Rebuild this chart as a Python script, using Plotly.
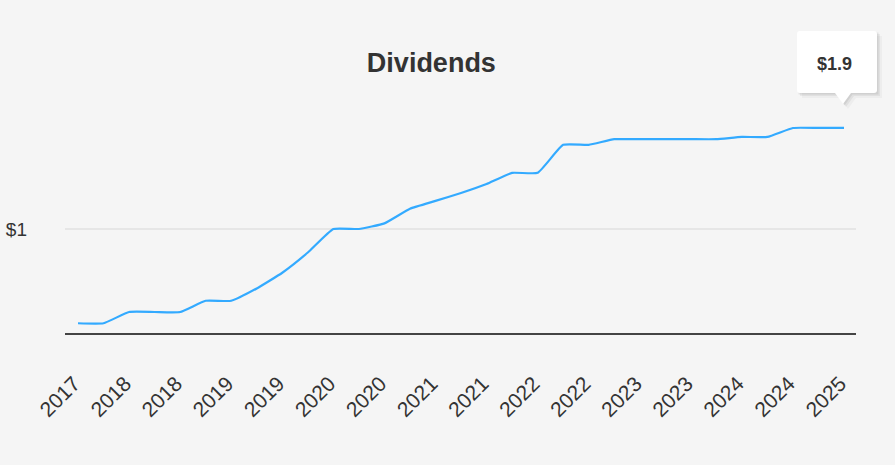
import plotly.graph_objects as go

# Half-year tick labels (one tick every 2 quarters)
tick_labels = ["2017", "2018", "2018", "2019", "2019", "2020", "2020", "2021",
               "2021", "2022", "2022", "2023", "2023", "2024", "2024", "2025"]

# Quarterly dividend (TTM) values
quarter_index = list(range(31))
dividends = [0.16, 0.16, 0.26, 0.26, 0.26, 0.36, 0.36, 0.47, 0.61, 0.79,
             1.00, 1.00, 1.05, 1.18, 1.25, 1.32, 1.40, 1.50, 1.50, 1.75,
             1.75, 1.80, 1.80, 1.80, 1.80, 1.80, 1.82, 1.82, 1.90, 1.90, 1.90]

last_label = "$1.9"

FONT = "Liberation Sans, Arial, sans-serif"
TXT = "#333333"

X_RANGE = [-0.51, 30.47]
Y_RANGE = [0.073, 2.862]

fig = go.Figure()
fig.add_trace(go.Scatter(
    x=quarter_index, y=dividends, mode="lines",
    line=dict(color="#33aaff", width=2.2, shape="spline", smoothing=0.4),
    hoverinfo="skip", showlegend=False,
))

lx, ly = quarter_index[-1], dividends[-1]
# anchor of the tooltip (last point) in paper fraction, so the box is not clipped
ax = (lx - X_RANGE[0]) / (X_RANGE[1] - X_RANGE[0])
ay = (ly - Y_RANGE[0]) / (Y_RANGE[1] - Y_RANGE[0])

# tooltip shadow (soft, layered)
for off, alpha in ((5, 0.03), (3, 0.05), (1.5, 0.07)):
    fig.add_shape(type="path", xref="paper", yref="paper", xsizemode="pixel", ysizemode="pixel",
                  xanchor=ax, yanchor=ay,
                  path=(f"M {-47+off},{35-off} L {-9+off},{35-off} L {-1+off},{24-off} L {7+off},{35-off} "
                        f"L {33+off},{35-off} L {33+off},{97-off} L {-47+off},{97-off} Z"),
                  fillcolor=f"rgba(0,0,0,{alpha})", line=dict(width=0), layer="above")
# tooltip box with pointer
fig.add_shape(type="path", xref="paper", yref="paper", xsizemode="pixel", ysizemode="pixel",
              xanchor=ax, yanchor=ay,
              path="M -47,35 L -9,35 L -1,24 L 7,35 L 30,35 Q 33,35 33,38 L 33,94 Q 33,97 30,97 "
                   "L -44,97 Q -47,97 -47,94 L -47,38 Q -47,35 -44,35 Z",
              fillcolor="white", line=dict(width=0), layer="above")
fig.add_annotation(x=lx, y=ly, xref="x", yref="y", text="<b>" + last_label + "</b>",
                   showarrow=False, xshift=-10, yshift=64,
                   font=dict(family=FONT, size=18, color=TXT))

fig.update_layout(
    width=895, height=465,
    margin=dict(l=65, r=39, t=20, b=132),
    paper_bgcolor="#f5f5f5", plot_bgcolor="#f5f5f5",
    title=dict(text="<b>Dividends</b>", x=0.482, xanchor="center", y=0.866, yanchor="middle",
               font=dict(family=FONT, size=27, color=TXT)),
    font=dict(family=FONT, color=TXT),
    xaxis=dict(
        range=X_RANGE, automargin=False,
        tickmode="array", tickvals=quarter_index[::2], ticktext=tick_labels,
        tickangle=-45, tickfont=dict(size=21, color=TXT),
        showgrid=False, zeroline=False, ticks="",
        showline=True, linecolor="#444444", linewidth=2,
        ticklabelstandoff=28, ticklabelshift=-4,
    ),
    yaxis=dict(
        range=Y_RANGE, automargin=False,
        tickmode="array", tickvals=[1], ticktext=["$1"],
        tickfont=dict(size=19, color=TXT),
        showgrid=True, gridcolor="#e6e6e6", gridwidth=2,
        zeroline=False, showline=False, ticks="",
        ticklabelstandoff=37,
    ),
)

fig.write_html("out.html", config={"displayModeBar": False},
               post_script="document.body.style.margin='0';document.body.style.background='#f5f5f5';")
